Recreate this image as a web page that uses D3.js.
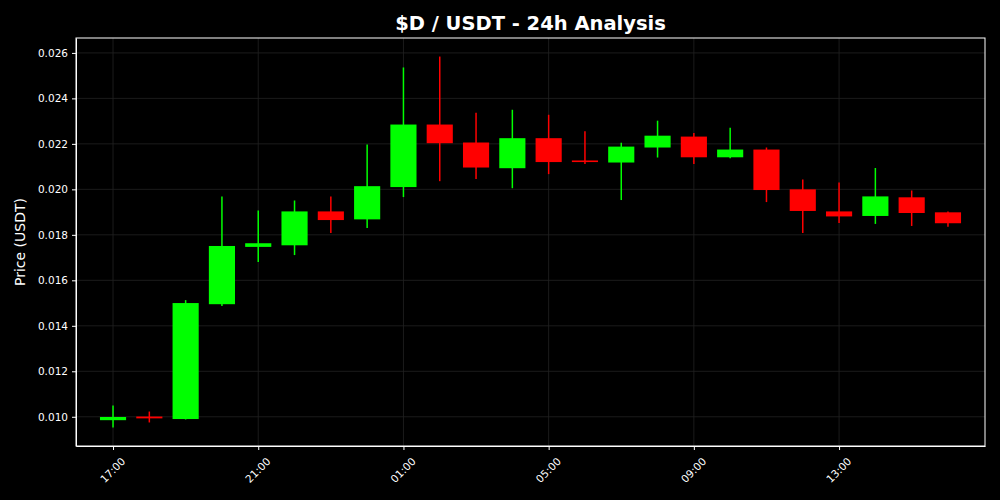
<!DOCTYPE html>
<meta charset="utf-8">
<head>
	<style>
		html, body {
			margin: 0;
			background-color: black;
		}
		text {
			font-family: "DejaVu Sans", sans-serif;
			fill: white;
		}
		.grid line {
			stroke: #222;
			stroke-width: 0.8;
		}
		.axis path, .axis line {
			stroke: white;
		}
	</style>
	<script src="https://d3js.org/d3.v7.min.js"></script>
</head>
<body>
	<script>

	// DATA (hourly candles, 17:00 -> 16:00 next day)
	var hours  = [17, 18, 19, 20, 21, 22, 23, 0, 1, 2, 3, 4, 5, 6, 7, 8, 9, 10, 11, 12, 13, 14, 15, 16];
	var opens  = [0.00985, 0.01001, 0.00990, 0.01495, 0.01747, 0.01754, 0.01903, 0.01868, 0.02010, 0.02285, 0.02206, 0.02093,
	              0.02225, 0.02127, 0.02118, 0.02184, 0.02232, 0.02141, 0.02175, 0.02000, 0.01903, 0.01883, 0.01965, 0.01899];
	var highs  = [0.01050, 0.01023, 0.01513, 0.01969, 0.01907, 0.01951, 0.01969, 0.02197, 0.02536, 0.02584, 0.02337, 0.02350,
	              0.02328, 0.02255, 0.02205, 0.02302, 0.02248, 0.02271, 0.02184, 0.02043, 0.02030, 0.02094, 0.01995, 0.01903];
	var lows   = [0.00953, 0.00975, 0.00988, 0.01487, 0.01681, 0.01711, 0.01808, 0.01830, 0.01966, 0.02036, 0.02045, 0.02005,
	              0.02067, 0.02111, 0.01953, 0.02140, 0.02111, 0.02137, 0.01944, 0.01808, 0.01852, 0.01848, 0.01839, 0.01836];
	var closes = [0.00999, 0.00993, 0.01500, 0.01751, 0.01763, 0.01903, 0.01865, 0.02014, 0.02285, 0.02203, 0.02096, 0.02225,
	              0.02120, 0.02120, 0.02188, 0.02236, 0.02141, 0.02175, 0.01997, 0.01905, 0.01881, 0.01969, 0.01896, 0.01851];
	var yTicks = [0.010, 0.012, 0.014, 0.016, 0.018, 0.020, 0.022, 0.024, 0.026];

	// SETUP
	var W = 1000, H = 500,
		margin = { top: 38, right: 15, bottom: 54, left: 76 },
		width = W - margin.left - margin.right,
		height = H - margin.top - margin.bottom;

	var HOUR = 3600 * 1000;
	var candles = hours.map(function(h, i) {
		return {
			t: new Date(2024, 0, h >= 17 ? 1 : 2, h),
			open: opens[i], high: highs[i], low: lows[i], close: closes[i]
		};
	});

	var x = d3.scaleTime()
		.domain([new Date(+candles[0].t - 1.02 * HOUR), new Date(+candles[candles.length - 1].t + 1.02 * HOUR)])
		.range([0, width]);

	var lo = d3.min(lows), hi = d3.max(highs), pad = (hi - lo) * 0.05;
	var y = d3.scaleLinear()
		.domain([lo - pad, hi + pad])
		.range([height, 0]);

	var xTicks = candles.filter(function(d, i) { return i % 4 === 0; }).map(function(d) { return d.t; });

	var svg = d3.select('body')
		.append('svg')
		.attr('width', W)
		.attr('height', H);

	svg.append('rect')
		.attr('width', W).attr('height', H)
		.attr('fill', 'black');

	var g = svg.append('g')
		.attr('transform', 'translate(' + margin.left + ',' + margin.top + ')');

	// GRID
	g.append('g')
		.attr('class', 'grid')
		.selectAll('line.h')
		.data(yTicks)
		.enter().append('line')
		.attr('x1', 0).attr('x2', width)
		.attr('y1', function(d) { return y(d); })
		.attr('y2', function(d) { return y(d); });

	g.select('.grid')
		.selectAll('line.v')
		.data(xTicks)
		.enter().append('line')
		.attr('y1', 0).attr('y2', height)
		.attr('x1', function(d) { return x(d); })
		.attr('x2', function(d) { return x(d); });

	// CANDLES
	var bodyW = x(new Date(+candles[0].t + 0.72 * HOUR)) - x(candles[0].t);
	var color = function(d) { return d.close >= d.open ? '#00ff00' : '#ff0000'; };

	var c = g.selectAll('.candle')
		.data(candles)
		.enter().append('g')
		.attr('class', 'candle');

	c.append('line')
		.attr('x1', function(d) { return x(d.t); })
		.attr('x2', function(d) { return x(d.t); })
		.attr('y1', function(d) { return y(d.high); })
		.attr('y2', function(d) { return y(d.low); })
		.attr('stroke', color)
		.attr('stroke-width', 1.5);

	c.append('rect')
		.attr('x', function(d) { return x(d.t) - bodyW / 2; })
		.attr('width', bodyW)
		.attr('y', function(d) { return y(Math.max(d.open, d.close)); })
		.attr('height', function(d) { return Math.max(1.5, Math.abs(y(d.open) - y(d.close))); })
		.attr('fill', color);

	// AXES
	var yAxis = g.append('g')
		.attr('class', 'axis')
		.call(d3.axisLeft(y).tickValues(yTicks).tickFormat(d3.format('.3f'))
			.tickSize(4).tickSizeOuter(0).tickPadding(4));

	yAxis.selectAll('text').attr('font-size', '10.5px').attr('fill', 'white');

	var xAxis = g.append('g')
		.attr('class', 'axis')
		.attr('transform', 'translate(0,' + height + ')')
		.call(d3.axisBottom(x).tickValues(xTicks).tickFormat(d3.timeFormat('%H:%M'))
			.tickSize(4).tickSizeOuter(0));

	xAxis.selectAll('text')
		.attr('font-size', '10.5px')
		.attr('fill', 'white')
		.attr('y', 0).attr('dy', null)
		.attr('text-anchor', 'middle')
		.attr('dominant-baseline', 'central')
		.attr('transform', 'translate(-1,24) rotate(-45)');

	// box
	g.append('rect')
		.attr('width', width).attr('height', height)
		.attr('fill', 'none')
		.attr('stroke', 'white')
		.attr('stroke-width', 1);

	// LABELS
	svg.append('text')
		.attr('x', margin.left + width / 2)
		.attr('y', 30)
		.attr('text-anchor', 'middle')
		.attr('font-size', '19.5px')
		.attr('font-weight', 'bold')
		.text('$D / USDT - 24h Analysis');

	svg.append('text')
		.attr('transform', 'translate(25,' + (margin.top + height / 2) + ') rotate(-90)')
		.attr('text-anchor', 'middle')
		.attr('font-size', '14px')
		.text('Price (USDT)');

	</script>
</body>
